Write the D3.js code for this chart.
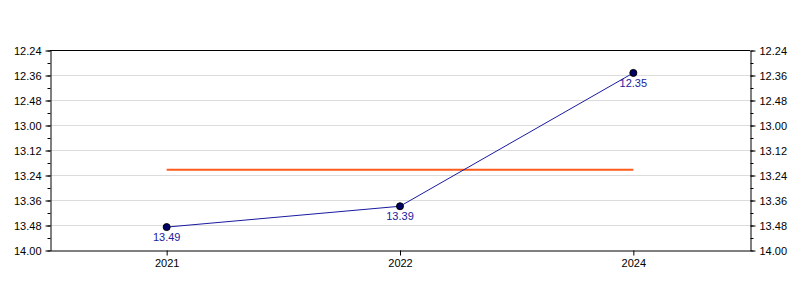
<!DOCTYPE html>
<html>
<head>
<meta charset="utf-8">
<script src="https://cdn.jsdelivr.net/npm/d3@7"></script>
<style>
  body { margin: 0; background: #fff; }
  text { font-family: "Liberation Sans", Arial, sans-serif; }
</style>
</head>
<body>
<div class="container"></div>
<script>
var WIDTH = 800, HEIGHT = 300;
var MARGIN = {top: 50, right: 50, bottom: 50, left: 50};

// data: years and times (min.sec)
var years = ["2021", "2022", "2024"];
var times = ["13.49", "13.39", "12.35"];
var yTickLabels = ["12.24", "12.36", "12.48", "13.00", "13.12", "13.24", "13.36", "13.48", "14.00"];

// "13.49" -> 829 seconds
var toSec = function(s){
    var p = s.split(".");
    return (+p[0]) * 60 + (+p[1]);
};
var toLabel = function(sec){
    var m = Math.floor(sec / 60), s = Math.round(sec - m * 60);
    return m + "." + (s < 10 ? "0" : "") + s;
};

var values = years.map(function(y, i){ return {name: y, value: toSec(times[i])}; });
var yTicks = yTickLabels.map(toSec);
var minorTicks = d3.range(yTicks[0], yTicks[yTicks.length - 1] + 1, 6);
var avg = d3.mean(values, function(d){ return d.value; });

var svg = d3.select('.container').append('svg')
            .attr('width', WIDTH)
            .attr('height', HEIGHT);

var xScale = d3.scalePoint()
               .domain(years)
               .range([MARGIN.left, WIDTH - MARGIN.right])
               .padding(0.5);

var yScale = d3.scaleLinear()
               .domain([yTicks[0], yTicks[yTicks.length - 1]])
               .range([MARGIN.top, HEIGHT - MARGIN.bottom]);

// gridlines
svg.append('g').selectAll('line').data(yTicks.slice(1, -1))
    .enter().append('line')
    .attr('x1', MARGIN.left).attr('x2', WIDTH - MARGIN.right)
    .attr('y1', function(d){ return yScale(d) + 0.5; })
    .attr('y2', function(d){ return yScale(d) + 0.5; })
    .attr('stroke', '#dcdcdc');

// top frame line
svg.append('line')
    .attr('x1', MARGIN.left).attr('x2', WIDTH - MARGIN.right)
    .attr('y1', MARGIN.top + 0.5).attr('y2', MARGIN.top + 0.5)
    .attr('stroke', '#000');

var fmt = function(d){ return toLabel(d); };

var axisStyle = function(g){
    g.selectAll('text').attr('font-size', 11).attr('fill', '#000');
    g.select('.domain').attr('stroke', '#000');
};

// minor ticks
svg.append('g')
    .attr('transform', 'translate(' + (MARGIN.left + 0.5) + ',0.5)')
    .call(d3.axisLeft(yScale).tickValues(minorTicks).tickSize(3).tickFormat(''))
    .select('.domain').remove();
svg.append('g')
    .attr('transform', 'translate(' + (WIDTH - MARGIN.right + 0.5) + ',0.5)')
    .call(d3.axisRight(yScale).tickValues(minorTicks).tickSize(3).tickFormat(''))
    .select('.domain').remove();

svg.append('g')
    .attr('transform', 'translate(' + (MARGIN.left + 0.5) + ',0.5)')
    .call(d3.axisLeft(yScale).tickValues(yTicks).tickSize(5).tickSizeOuter(0).tickPadding(4).tickFormat(fmt))
    .call(axisStyle);

svg.append('g')
    .attr('transform', 'translate(' + (WIDTH - MARGIN.right + 0.5) + ',0.5)')
    .call(d3.axisRight(yScale).tickValues(yTicks).tickSize(5).tickSizeOuter(0).tickPadding(4).tickFormat(fmt))
    .call(axisStyle);

svg.append('g')
    .attr('transform', 'translate(0,' + (HEIGHT - MARGIN.bottom + 0.5) + ')')
    .call(d3.axisBottom(xScale).tickSize(5).tickSizeOuter(0).tickPadding(4))
    .call(axisStyle);

// average line
svg.append('line')
    .attr('x1', xScale(years[0])).attr('x2', xScale(years[years.length - 1]))
    .attr('y1', yScale(avg) + 1).attr('y2', yScale(avg) + 1)
    .attr('stroke', '#ff5a1a')
    .attr('stroke-width', 2);

var line = d3.line()
             .x(function(d){ return xScale(d.name); })
             .y(function(d){ return yScale(d.value); });

svg.append('path')
    .attr('d', line(values))
    .attr('fill', 'none')
    .attr('stroke', '#1a1aa0')
    .attr('stroke-width', 1);

svg.selectAll('circle.dot').data(values)
    .enter().append('circle')
    .classed('dot', true)
    .attr('r', 3.5)
    .attr('cx', function(d){ return xScale(d.name); })
    .attr('cy', function(d){ return yScale(d.value); })
    .attr('fill', '#000066')
    .attr('stroke', '#000')
    .attr('stroke-width', 1);

svg.selectAll('text.lbl').data(values)
    .enter().append('text')
    .classed('lbl', true)
    .attr('x', function(d){ return xScale(d.name); })
    .attr('y', function(d){ return yScale(d.value) + 14; })
    .attr('text-anchor', 'middle')
    .attr('font-size', 11)
    .attr('fill', '#2020a0')
    .text(function(d){ return toLabel(d.value); });
</script>
</body>
</html>
